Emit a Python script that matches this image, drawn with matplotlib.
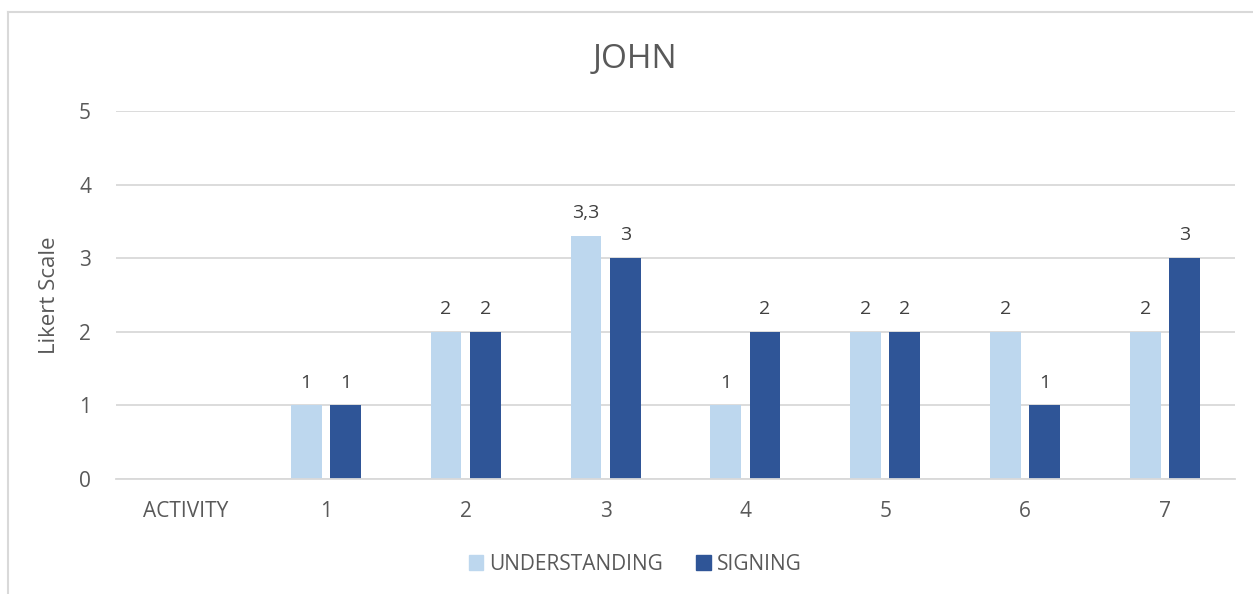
import matplotlib.pyplot as plt
from matplotlib.lines import Line2D
from matplotlib.patches import Patch
import numpy as np

plt.rcParams['font.family'] = ['Open Sans', 'DejaVu Sans']

categories = ["ACTIVITY", "1", "2", "3", "4", "5", "6", "7"]
understanding = [np.nan, 1, 2, 3.3, 1, 2, 2, 2]
signing = [np.nan, 1, 2, 3, 2, 2, 1, 3]
yticks = [0, 1, 2, 3, 4, 5]

light = "#BDD7EE"
dark = "#2F5597"
txt = "#595959"
grid = "#D9D9D9"


def fmt(v):
    # comma decimal separator, as in the source chart
    return f"{v:g}".replace(".", ",")


fig = plt.figure(figsize=(12.53, 5.94), dpi=100)
ax = fig.add_axes([0.0926, 0.1936, 0.893, 0.6195])

x = np.arange(len(categories))
w = 0.22
off = 0.14
b1 = ax.bar(x - off, understanding, w, color=light, label="UNDERSTANDING")
b2 = ax.bar(x + off, signing, w, color=dark, label="SIGNING")

for bars, vals in ((b1, understanding), (b2, signing)):
    for rect, v in zip(bars, vals):
        if np.isnan(v):
            continue
        ax.annotate(fmt(v), (rect.get_x() + rect.get_width() / 2, v), xytext=(0, 10),
                    textcoords="offset points", ha="center", va="bottom", fontsize=14, color="#404040")

ax.set_xlim(-0.5, len(categories) - 0.5)
ax.set_ylim(0, 5)
ax.set_yticks(yticks)
ax.set_xticks(x)
ax.set_xticklabels(categories)
ax.tick_params(axis="both", length=0, colors=txt, labelsize=15)
ax.tick_params(axis="y", pad=18)
ax.tick_params(axis="x", pad=16)
ax.yaxis.grid(True, color=grid, lw=1.3)
ax.set_axisbelow(True)
for s in ("top", "right", "left"):
    ax.spines[s].set_visible(False)
ax.spines["bottom"].set_color(grid)
ax.spines["bottom"].set_linewidth(1.3)

ax.set_ylabel("Likert Scale", fontsize=16, color=txt, labelpad=14)
fig.text(0.507, 0.9, "JOHN", ha="center", va="center", fontsize=24, color=txt)

handles = [Patch(color=light, label="UNDERSTANDING"), Patch(color=dark, label="SIGNING")]
fig.legend(handles=handles, loc="center", bbox_to_anchor=(0.507, 0.05), ncol=2, frameon=False,
           fontsize=15, labelcolor=txt, handlelength=0.7, handleheight=0.7, handletextpad=0.3,
           columnspacing=1.6)

# chart frame (left and top edges visible in the crop)
fig.add_artist(Line2D([0.0064, 0.0064], [0, 0.98], transform=fig.transFigure, color=grid, lw=1.5))
fig.add_artist(Line2D([0.0064, 1.0], [0.98, 0.98], transform=fig.transFigure, color=grid, lw=1.5))

fig.savefig("out.png", dpi=100, facecolor="white")
